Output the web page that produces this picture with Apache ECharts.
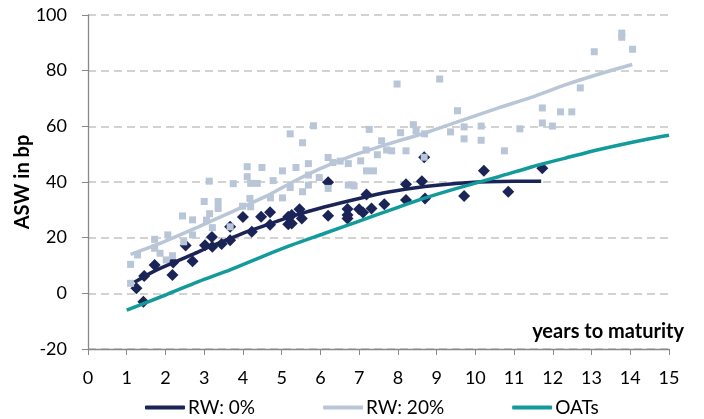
<!DOCTYPE html>
<html><head><meta charset="utf-8">
<script src="https://cdn.jsdelivr.net/npm/echarts@6/dist/echarts.min.js"></script>
<style>html,body{margin:0;padding:0;background:#fff;}#c{width:704px;height:419px;}</style>
</head><body><div id="c"></div>
<script>
// ---- data ----
const seriesNames = ['RW: 0%', 'RW: 20%', 'OATs'];
const xTickValues = [0,1,2,3,4,5,6,7,8,9,10,11,12,13,14,15];
const yTickValues = [-20,0,20,40,60,80,100];

// RW: 0% bonds (diamonds): [years, ASW]
const rw0Points = [
  [1.25,1.8],[1.43,-3],[1.45,6.2],[1.72,10.2],[2.18,6.6],[2.2,11.1],[2.52,17.2],[2.7,11.5],
  [3.02,17.3],[3.2,20.2],[3.21,16.7],[3.45,17.7],[3.67,19.1],[3.67,23.9],[4.0,27.4],[4.23,22.1],
  [4.47,27.5],[4.7,29.1],[4.7,24.6],[5.17,27.5],[5.17,24.8],[5.26,28.1],[5.26,25.1],[5.46,30.2],
  [5.52,26.9],[6.2,39.9],[6.2,27.9],[6.7,30.3],[6.7,28.1],[6.7,26.9],[7.0,30.2],[7.1,29],
  [7.19,35.5],[7.32,30.5],[7.65,32],[8.21,39.2],[8.21,33.5],[8.62,40.3],[8.68,48.9],[8.7,34.1],
  [9.71,35],[10.22,44],[10.85,36.5],[11.73,44.9]
];
// RW: 20% bonds (squares): [years, ASW]
const rw20Points = [
  [1.1,3.6],[1.1,10.4],[1.28,13.8],[1.72,19.4],[1.72,16.2],[1.86,14.4],[2.06,21],[2.02,12],
  [2.18,13.5],[2.44,27.8],[2.47,18.5],[2.7,26.4],[2.7,21],[3.0,33],[3.06,26.3],[3.13,40.3],
  [3.14,28.6],[3.21,23.6],[3.36,33],[3.36,30.5],[3.67,23.9],[3.75,39.4],[3.99,31.3],[4.11,45.5],
  [4.11,41.9],[4.2,39.5],[4.37,39.5],[4.49,45.2],[4.78,40.5],[4.71,34.3],[4.2,31.1],[4.18,34.1],
  [5.02,44],[5.02,34.3],[5.22,57.3],[5.22,38],[5.37,45.2],[5.54,54.1],[5.54,36.5],[5.69,46.6],
  [5.69,42.5],[5.69,38.9],[5.82,60.2],[5.97,41.6],[6.2,48.8],[6.32,47],[6.51,47.5],[6.72,46.6],
  [6.2,37.7],[6.72,38.9],[6.87,38.6],[7.04,47.6],[7.18,51.5],[7.26,58.9],[7.19,44],[7.37,44],
  [7.47,49.8],[7.58,54.8],[7.71,51.5],[7.84,51.2],[7.98,75.2],[8.07,57.7],[8.21,51.2],[8.4,60.6],
  [8.47,58.4],[8.68,48.9],[8.69,57.3],[9.08,77],[9.36,58],[9.54,65.6],[9.71,59.8],[9.71,55.5],
  [10.15,60.1],[10.15,55],[10.75,51.2],[11.15,59.1],[11.73,66.6],[11.73,61.2],[11.99,60.1],
  [12.2,65.2],[12.49,65.2],[12.71,73.8],[13.07,86.8],[13.78,93.5],[13.78,92],[14.06,87.7]
];
// fitted curves
const rw0Curve = [
  [1.2,4],[1.7,7.9],[2.2,11],[2.7,14],[3.2,17.1],[3.7,19.9],[4.2,22.6],[4.7,25],[5.2,27.4],
  [6.1,31],[7.0,34.1],[7.8,36.5],[8.7,38.4],[9.5,39.5],[10.3,40.1],[11.0,40.3],[11.7,40.3]
];
const rw20Curve = [
  [1.1,14],[2.0,18.8],[2.85,23.9],[3.7,29.2],[4.6,34.9],[5.3,40.1],[6.1,45.4],[6.9,49.8],
  [7.8,53.9],[8.7,57.6],[9.5,61.4],[10.6,66.6],[11.5,70.7],[12.3,74.8],[13.2,78.8],[14.05,82.2]
];
const oatCurve = [
  [1.0,-6],[2.0,-0.6],[2.85,4.2],[3.7,8.6],[4.5,13.2],[5.25,17.3],[6.1,21.5],[6.95,25.7],
  [7.8,29.9],[8.65,34],[9.5,37.6],[10.6,41.9],[11.45,45.4],[12.3,48.5],[13.2,51.7],[14.4,55.3],[15,56.8]
];

const cDark = '#1b2457', cLight = '#b9c6d7', cTeal = '#139b9c';
const font = 'Lato, "Liberation Sans", sans-serif';

const chart = echarts.init(document.getElementById('c'), null, {renderer:'canvas'});
chart.setOption({
  animation: false,
  backgroundColor: '#fff',
  grid: {left: 88, right: 35, top: 15, bottom: 70, containLabel: false, outerBoundsMode: 'none'},
  xAxis: {
    type: 'value', min: xTickValues[0], max: xTickValues[xTickValues.length-1], interval: 1,
    name: 'years to maturity', nameLocation: 'end', nameGap: 15,
    nameTextStyle: {fontFamily: font, fontWeight: 'bold', fontSize: 20, color: '#000', align: 'right', verticalAlign: 'bottom', padding: [0,0,7,0]},
    axisLine: {show: true, onZero: false, lineStyle: {color: '#888', width: 1.3}},
    axisTick: {show: true, inside: false, length: 6, lineStyle: {color: '#888'}},
    axisLabel: {fontFamily: font, fontSize: 18, color: '#000', margin: 20},
    splitLine: {show: false}
  },
  yAxis: {
    type: 'value', min: yTickValues[0], max: yTickValues[yTickValues.length-1], interval: 20,
    name: 'ASW in bp', nameLocation: 'middle', nameRotate: 90, nameGap: 55, nameMoveOverlap: false,
    nameTextStyle: {fontFamily: font, fontWeight: 'bold', fontSize: 20, color: '#000'},
    axisLine: {show: true, lineStyle: {color: '#888', width: 1.3}},
    axisTick: {show: true, inside: false, length: 6, lineStyle: {color: '#888'}},
    axisLabel: {fontFamily: font, fontSize: 18, color: '#000', margin: 21},
    splitLine: {show: true, lineStyle: {color: '#c4c4c4', width: 1.5, type: [8, 5]}}
  },
  legend: {
    data: seriesNames.map(n => ({name: n, icon: 'roundRect'})),
    left: 140, top: 393, itemGap: 68, itemWidth: 40, itemHeight: 4,
    textStyle: {fontFamily: font, fontSize: 19, color: '#000', padding: [0,0,0,-2]}
  },
  series: [
    {name: 'rw0pts', type: 'scatter', data: rw0Points, symbol: 'diamond', symbolSize: 12,
     itemStyle: {color: cDark, opacity: 1}, z: 2},
    {name: 'rw20pts', type: 'scatter', data: rw20Points, symbol: 'rect', symbolSize: 7,
     itemStyle: {color: cLight, opacity: 1}, z: 3},
    {name: seriesNames[0], type: 'line', data: rw0Curve, showSymbol: false, symbol: 'none', smooth: 0.3,
     lineStyle: {color: cDark, width: 3.5}, itemStyle: {color: cDark}, z: 4},
    {name: seriesNames[1], type: 'line', data: rw20Curve, showSymbol: false, symbol: 'none', smooth: 0.3,
     lineStyle: {color: cLight, width: 3.5}, itemStyle: {color: cLight}, z: 5},
    {name: seriesNames[2], type: 'line', data: oatCurve, showSymbol: false, symbol: 'none', smooth: 0.3,
     lineStyle: {color: cTeal, width: 3.5}, itemStyle: {color: cTeal}, z: 6}
  ]
});
</script></body></html>
